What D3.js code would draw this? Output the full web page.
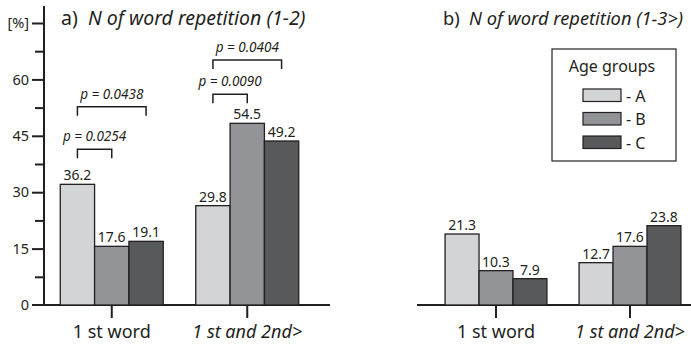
<!DOCTYPE html>
<html>
<head>
<meta charset="utf-8">
<script src="https://cdn.jsdelivr.net/npm/d3@7"></script>
<style>
  body { margin: 0; background: #fff; }
  svg { display: block; font-family: "Noto Sans", sans-serif; }
  text { fill: #231f20; }
</style>
</head>
<body>
<div id="chart"></div>
<script>
  // data
  var categories = ["1 st word", "1 st and 2nd>"];
  var catItalic = [false, true];
  var groups = ["A", "B", "C"];

  // panel a) N of word repetition (1-2)
  var a_A = [36.2, 29.8];
  var a_B = [17.6, 54.5];
  var a_C = [19.1, 49.2];

  // panel b) N of word repetition (1-3>)
  var b_A = [21.3, 12.7];
  var b_B = [10.3, 17.6];
  var b_C = [7.9, 23.8];

  // y axis ticks as printed (every 7.5, labelled every 15)
  var tickValues = [0, 7.5, 15, 22.5, 30, 37.5, 45, 52.5, 60, 67.5, 75];
  var tickLabels = ["0", "", "15", "", "30", "", "45", "", "60", "", "[%]"];

  // significance brackets in panel a (level in bar units)
  var comparisons = [
    {cat: 0, from: "A", to: "B", p: "0.0254", level: 46.7},
    {cat: 0, from: "A", to: "C", p: "0.0438", level: 59.5},
    {cat: 1, from: "A", to: "B", p: "0.0090", level: 63.2},
    {cat: 1, from: "A", to: "C", p: "0.0404", level: 73.5}
  ];

  var colors = {A: "#d3d4d6", B: "#939497", C: "#58595b"};
  var ink = "#231f20";

  var width = 691, height = 344, base = 305;

  var svg = d3.select("#chart").append("svg")
      .attr("width", width)
      .attr("height", height);

  // the printed axis and the bars use different scales in the original figure
  var yAxisScale = d3.scaleLinear().domain([0, 75]).range([base, 23]);
  var yBar = d3.scaleLinear().domain([0, 85.5]).range([base, 20]);

  var xInner = d3.scaleBand().domain(groups);

  function panel(g, x, data, axisFrom, axisTo) {
    xInner.range([0, x.bandwidth()]);

    // baseline
    g.append("line")
      .attr("x1", axisFrom).attr("x2", axisTo)
      .attr("y1", base).attr("y2", base)
      .attr("stroke", ink).attr("stroke-width", 1.8);

    var cat = g.selectAll(".cat")
      .data(categories)
      .enter().append("g")
      .attr("class", "cat")
      .attr("transform", function(d) { return `translate(${x(d)}, 0)`; });

    cat.selectAll("rect")
      .data(function(d, i) { return groups.map(function(k) { return {k: k, v: data[k][i]}; }); })
      .enter().append("rect")
      .attr("x", function(d) { return xInner(d.k); })
      .attr("y", function(d) { return yBar(d.v); })
      .attr("width", xInner.bandwidth())
      .attr("height", function(d) { return base - yBar(d.v); })
      .attr("fill", function(d) { return colors[d.k]; })
      .attr("stroke", ink)
      .attr("stroke-width", 1.3);

    cat.selectAll(".val")
      .data(function(d, i) { return groups.map(function(k) { return {k: k, v: data[k][i]}; }); })
      .enter().append("text")
      .attr("class", "val")
      .attr("x", function(d) { return xInner(d.k) + xInner.bandwidth() / 2; })
      .attr("y", function(d) { return yBar(d.v) - 4; })
      .attr("text-anchor", "middle")
      .attr("font-size", "14px")
      .text(function(d) { return d3.format(".1f")(d.v); });

    // category ticks + labels
    cat.append("line")
      .attr("x1", x.bandwidth() / 2).attr("x2", x.bandwidth() / 2)
      .attr("y1", base).attr("y2", base + 13)
      .attr("stroke", ink).attr("stroke-width", 2);

    cat.append("text")
      .attr("x", x.bandwidth() / 2)
      .attr("y", 338)
      .attr("text-anchor", "middle")
      .attr("font-size", "18px")
      .attr("font-style", function(d, i) { return catItalic[i] ? "italic" : "normal"; })
      .text(function(d) { return d; });
  }

  // ---- panel a
  var xA = d3.scaleBand().domain(categories).range([44, 315])
      .paddingInner(0.24).paddingOuter(0.12);
  var gA = svg.append("g");
  panel(gA, xA, {A: a_A, B: a_B, C: a_C}, 32, 330);

  // y axis
  var yAxis = gA.append("g")
      .attr("transform", "translate(44, 0)")
      .call(d3.axisLeft(yAxisScale)
        .tickValues(tickValues)
        .tickSize(12)
        .tickFormat(function(d, i) { return tickLabels[i]; }));
  yAxis.select(".domain").remove();
  yAxis.selectAll(".tick line")
      .attr("stroke", ink).attr("stroke-width", 2)
      .attr("x1", function(d, i) { return tickLabels[i] ? 0 : -9; })
      .attr("x2", function(d, i) { return tickLabels[i] ? -12 : 0; })
      .filter(function(d) { return d === 0; }).remove();
  yAxis.selectAll(".tick text")
      .attr("x", -15)
      .attr("font-family", "Noto Sans, sans-serif")
      .attr("font-size", "14.5px")
      .attr("fill", ink);
  gA.append("line")
      .attr("x1", 44).attr("x2", 44)
      .attr("y1", 6).attr("y2", base)
      .attr("stroke", ink).attr("stroke-width", 2);

  // title a
  var tA = gA.append("text").attr("x", 61).attr("y", 25).attr("font-size", "19.5px");
  tA.append("tspan").text("a)");
  tA.append("tspan").attr("x", 88).attr("font-style", "italic").text("N of word repetition (1-2)");

  // significance brackets
  var xInA = d3.scaleBand().domain(groups).range([0, xA.bandwidth()]);
  var br = gA.selectAll(".cmp")
      .data(comparisons)
      .enter().append("g")
      .attr("class", "cmp");

  br.append("path")
      .attr("d", function(d) {
        var x1 = xA(categories[d.cat]) + xInA(d.from) + xInA.bandwidth() / 2;
        var x2 = xA(categories[d.cat]) + xInA(d.to) + xInA.bandwidth() / 2;
        var y = yBar(d.level);
        return `M${x1},${y + 9}V${y}H${x2}V${y + 9}`;
      })
      .attr("fill", "none")
      .attr("stroke", ink)
      .attr("stroke-width", 1.5);

  br.append("text")
      .attr("x", function(d) {
        var x1 = xA(categories[d.cat]) + xInA(d.from) + xInA.bandwidth() / 2;
        var x2 = xA(categories[d.cat]) + xInA(d.to) + xInA.bandwidth() / 2;
        return (x1 + x2) / 2;
      })
      .attr("y", function(d) { return yBar(d.level) - 8; })
      .attr("text-anchor", "middle")
      .attr("font-size", "13.5px")
      .attr("font-style", "italic")
      .text(function(d) { return "p = " + d.p; });

  // ---- panel b
  var xB = d3.scaleBand().domain(categories).range([429, 697])
      .paddingInner(0.24).paddingOuter(0.12);
  var gB = svg.append("g");
  panel(gB, xB, {A: b_A, B: b_B, C: b_C}, 417, 691);

  // slightly smaller than a) so it fits in the window
  var tB = gB.append("text").attr("x", 443).attr("y", 25).attr("font-size", "18.3px");
  tB.append("tspan").text("b)");
  tB.append("tspan").attr("x", 469).attr("font-style", "italic").text("N of word repetition (1-3>)");

  // legend
  var legend = svg.append("g").attr("transform", "translate(552, 49)");
  legend.append("rect")
      .attr("width", 124).attr("height", 112)
      .attr("fill", "#fff")
      .attr("stroke", ink).attr("stroke-width", 1.2);
  legend.append("text")
      .attr("x", 60).attr("y", 23)
      .attr("text-anchor", "middle")
      .attr("font-size", "16px")
      .text("Age groups");
  var item = legend.selectAll(".item")
      .data(groups)
      .enter().append("g")
      .attr("class", "item")
      .attr("transform", function(d, i) { return `translate(31, ${40 + i * 23.5})`; });
  item.append("rect")
      .attr("width", 38).attr("height", 12.5)
      .attr("fill", function(d) { return colors[d]; })
      .attr("stroke", ink).attr("stroke-width", 1.2);
  item.append("text")
      .attr("x", 43).attr("y", 12.5)
      .attr("font-size", "16px")
      .text(function(d) { return "- " + d; });
</script>
</body>
</html>
